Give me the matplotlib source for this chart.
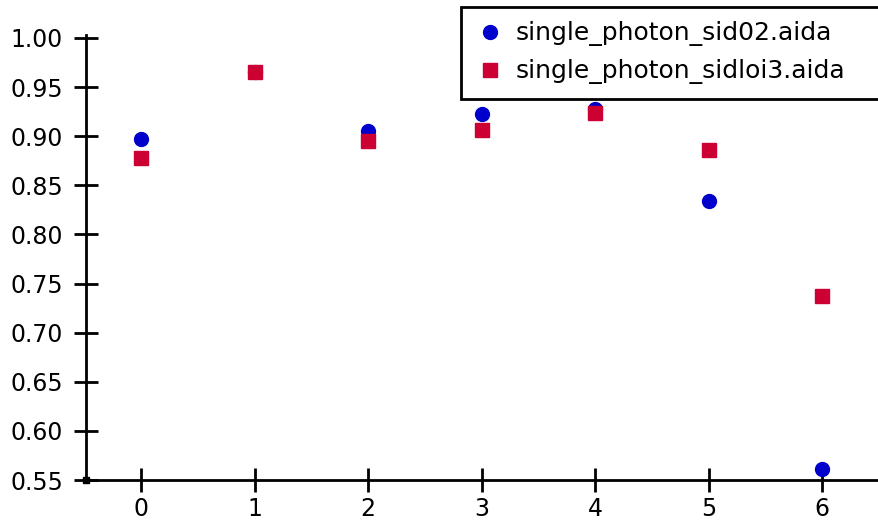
import matplotlib.pyplot as plt

# data
x_vals = [0, 1, 2, 3, 4, 5, 6]
sid02 = [0.897, 0.965, 0.905, 0.923, 0.928, 0.834, 0.561]
sidloi3 = [0.878, 0.965, 0.895, 0.906, 0.924, 0.886, 0.737]
labels = ['single_photon_sid02.aida', 'single_photon_sidloi3.aida']
y_ticks = [0.55, 0.60, 0.65, 0.70, 0.75, 0.80, 0.85, 0.90, 0.95, 1.00]

plt.rcParams['font.family'] = ['DejaVu Sans']

fig = plt.figure(figsize=(8.79, 5.29), dpi=100)
ax = fig.add_axes([86 / 879, 49 / 529, 1 - 86 / 879, 445 / 529])

ax.plot(x_vals, sid02, 'o', color='#0000cc', markersize=10, label=labels[0], clip_on=False)
ax.plot(x_vals, sidloi3, 's', color='#cc0033', markersize=10, label=labels[1], clip_on=False)

ax.set_xlim(-0.485, 6.5)
ax.set_ylim(0.55, 1.003)
ax.set_xticks(x_vals)
ax.set_yticks(y_ticks)
ax.set_yticklabels(['%.2f' % v for v in y_ticks])

for s in ['top', 'right']:
    ax.spines[s].set_visible(False)
for s in ['left', 'bottom']:
    ax.spines[s].set_linewidth(2)
ax.tick_params(axis='both', direction='inout', length=17, width=2, labelsize=17)
ax.tick_params(axis='y', pad=8)
ax.tick_params(axis='x', pad=4)

# small square at the axis corner
ax.plot([0], [0], 's', color='black', markersize=4, transform=ax.transAxes, clip_on=False)

top = 1 - 7 / 529
leg = fig.legend(loc='upper left', bbox_to_anchor=(461 / 879, 0.5, 430 / 879, top - 0.5),
                 mode='expand', borderaxespad=0, fontsize=18, fancybox=False,
                 edgecolor='black', framealpha=1, borderpad=0.58, labelspacing=0.52,
                 handlelength=1.16, handletextpad=0.46)
leg.get_frame().set_linewidth(2)

fig.savefig('out.png', dpi=100)
